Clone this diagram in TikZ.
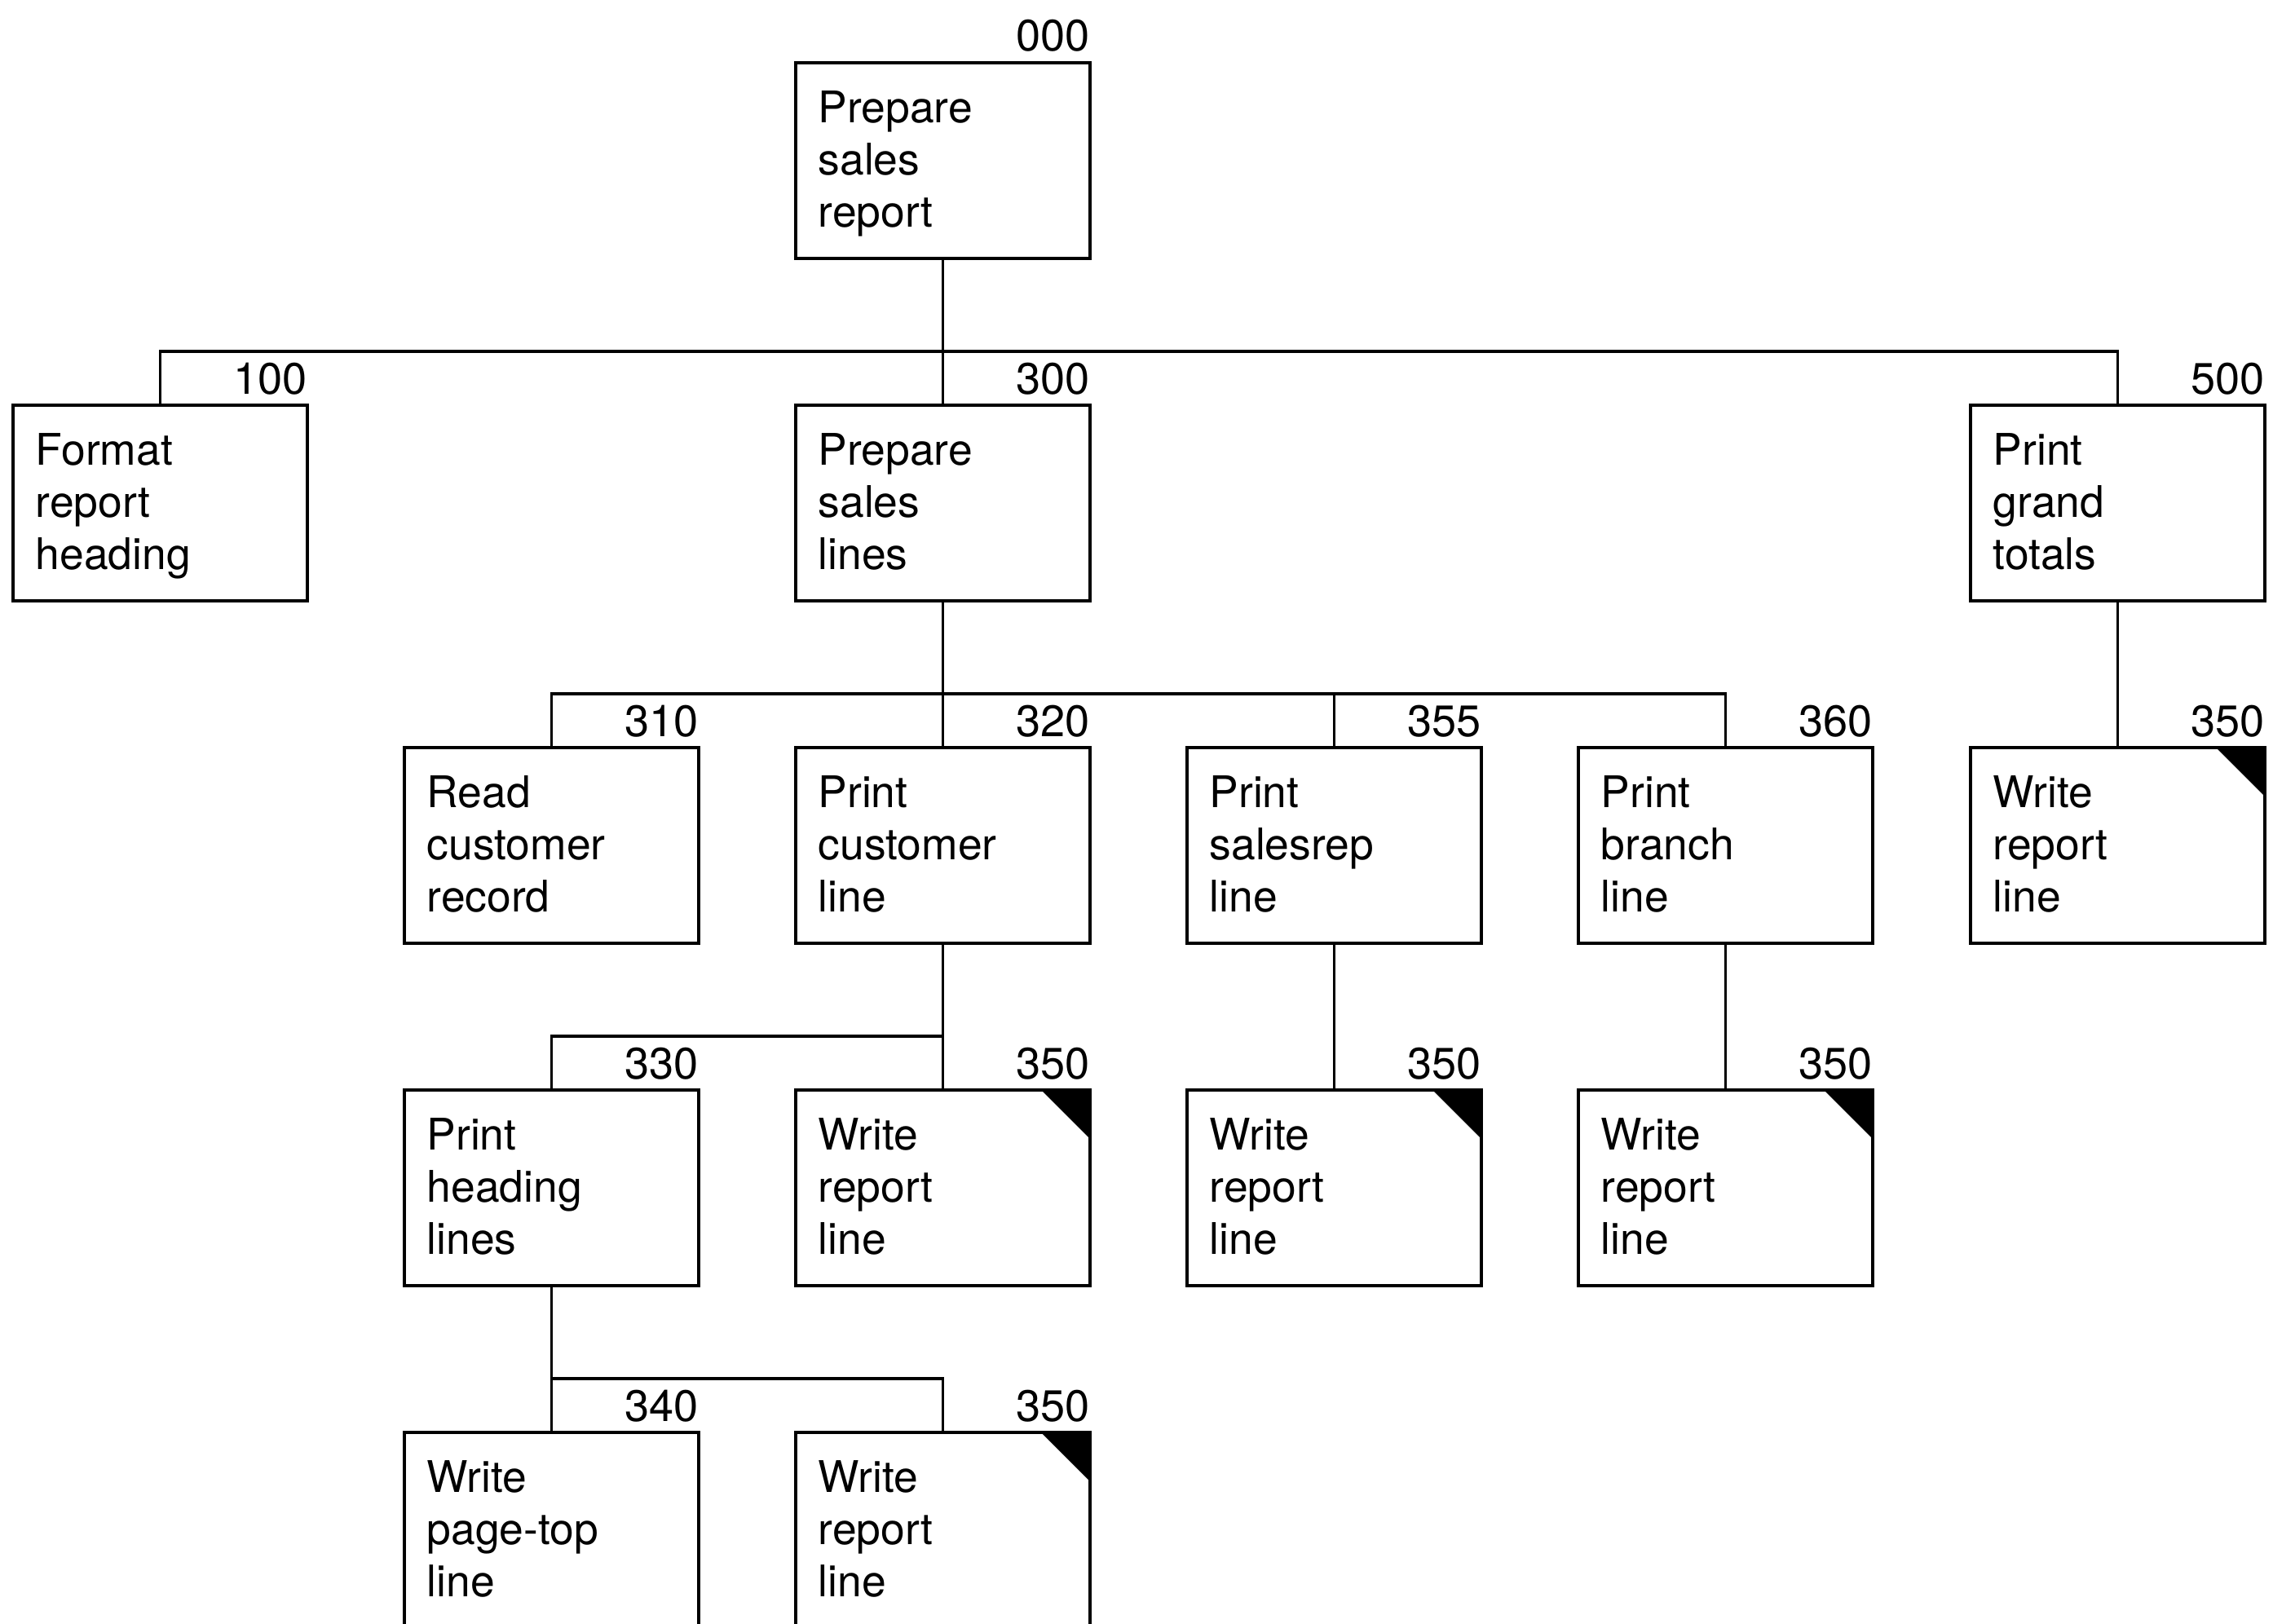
\documentclass[tikz,border=0pt]{standalone}
\usepackage{fontspec}
\setmainfont{TeX Gyre Heros}
\begin{document}
\begin{tikzpicture}[
  x=1cm, y=1cm,
  pbox/.style={draw, line width=1.2pt, minimum width=3.61cm, minimum height=2.40cm,
               anchor=north west, inner sep=0pt, outer sep=0pt},
  ptext/.style={anchor=north west, inner sep=0pt, align=left,
                font=\fontsize{15.2}{18.2}\selectfont},
  pnum/.style={anchor=base east, inner sep=0pt, font=\fontsize{15.4}{18.2}\selectfont},
  link/.style={line width=1.1pt, line join=miter},
  corner/.style={fill=black}
]
\useasboundingbox (0,0) rectangle (27.88,-19.92);

% one module box: name, top-left corner, text, number
\newcommand{\modbox}[4]{%
  \node[pbox] (#1) at (#2) {};
  \node[ptext] (#1t) at ([shift={(0.27,-0.34)}]#1.north west) {#3};
  \node[pnum] (#1n) at ([yshift=0.14cm]#1.north east) {#4};
}
% marker for a module that is shown more than once
\newcommand{\repmark}[1]{%
  \fill[corner] (#1.north east) -- ++(-0.60,0) -- ++(0.60,-0.60) -- cycle;
}

% level 0
\modbox{m000}{9.76,-0.77}{Prepare\\sales\\report}{000}
% level 1
\modbox{m100}{0.16,-4.97}{Format\\report\\heading}{100}
\modbox{m300}{9.76,-4.97}{Prepare\\sales\\lines}{300}
\modbox{m500}{24.17,-4.97}{Print\\grand\\totals}{500}
% level 2
\modbox{m310}{4.96,-9.17}{Read\\customer\\record}{310}
\modbox{m320}{9.76,-9.17}{Print\\customer\\line}{320}
\modbox{m355}{14.56,-9.17}{Print\\salesrep\\line}{355}
\modbox{m360}{19.36,-9.17}{Print\\branch\\line}{360}
\modbox{m350e}{24.17,-9.17}{Write\\report\\line}{350}
% level 3
\modbox{m330}{4.96,-13.37}{Print\\heading\\lines}{330}
\modbox{m350a}{9.76,-13.37}{Write\\report\\line}{350}
\modbox{m350b}{14.56,-13.37}{Write\\report\\line}{350}
\modbox{m350c}{19.36,-13.37}{Write\\report\\line}{350}
% level 4
\modbox{m340}{4.96,-17.57}{Write\\page-top\\line}{340}
\modbox{m350d}{9.76,-17.57}{Write\\report\\line}{350}

\repmark{m350e}
\repmark{m350a}
\repmark{m350b}
\repmark{m350c}
\repmark{m350d}

% bus levels
\coordinate (bus1) at (0,-4.31);
\coordinate (bus2) at (0,-8.51);
\coordinate (bus3) at (0,-12.71);
\coordinate (bus4) at (0,-16.91);

% 000 -> 100, 300, 500
\draw[link] (m000.south) -- (m300.north);
\draw[link] (m100.north) -- (m100.north |- bus1) -- (m500.north |- bus1) -- (m500.north);
% 300 -> 310, 320, 355, 360
\draw[link] (m300.south) -- (m320.north);
\draw[link] (m310.north) -- (m310.north |- bus2) -- (m360.north |- bus2) -- (m360.north);
\draw[link] (m355.north |- bus2) -- (m355.north);
% 500 -> 350
\draw[link] (m500.south) -- (m350e.north);
% 320 -> 330, 350
\draw[link] (m320.south) -- (m350a.north);
\draw[link] (m330.north) -- (m330.north |- bus3) -- (m320.south |- bus3);
% 355 -> 350, 360 -> 350
\draw[link] (m355.south) -- (m350b.north);
\draw[link] (m360.south) -- (m350c.north);
% 330 -> 340, 350
\draw[link] (m330.south) -- (m340.north);
\draw[link] (m340.north |- bus4) -- (m350d.north |- bus4) -- (m350d.north);
\end{tikzpicture}
\end{document}
